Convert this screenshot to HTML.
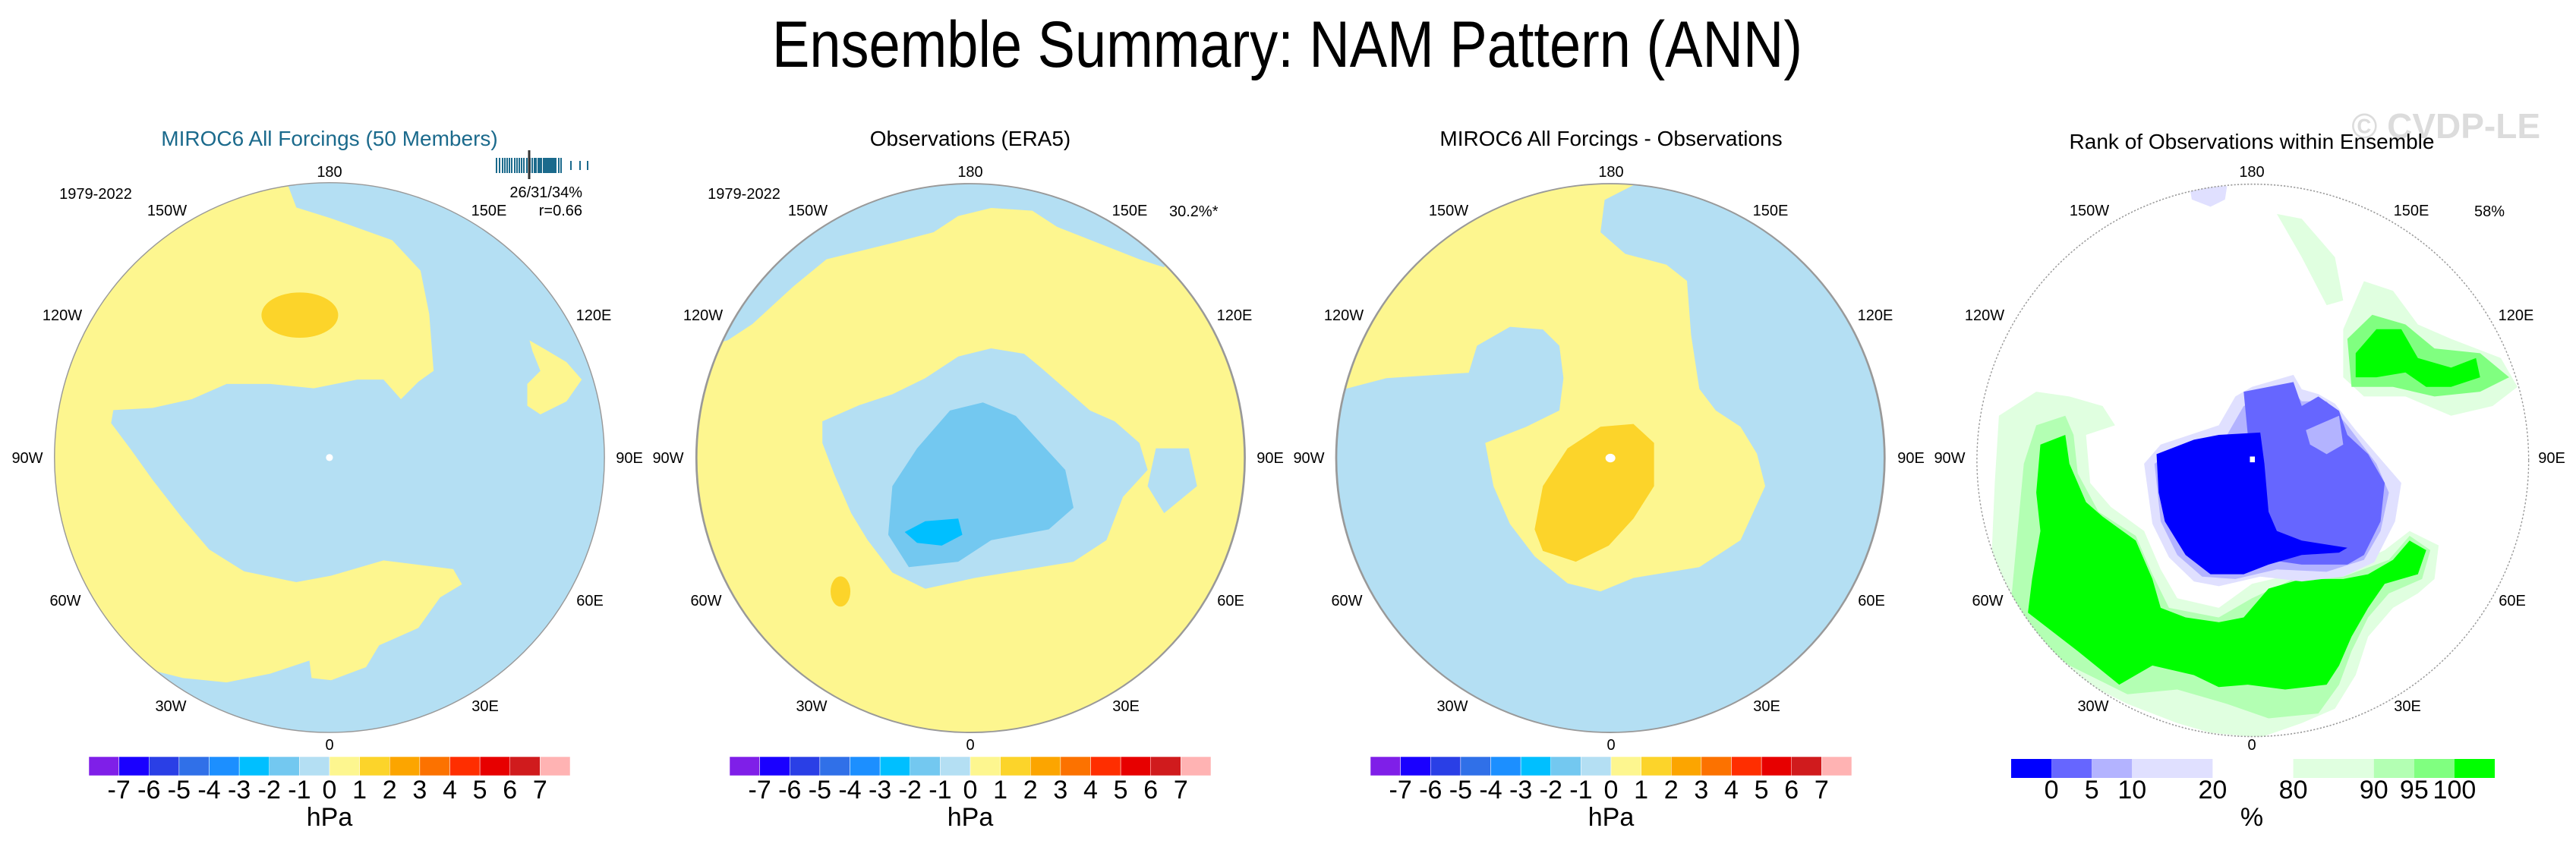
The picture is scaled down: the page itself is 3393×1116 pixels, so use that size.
<!DOCTYPE html>
<html><head><meta charset="utf-8"><style>
html,body{margin:0;padding:0;background:#fff;}
svg{display:block;font-family:"Liberation Sans",Arial,sans-serif;}
</style></head><body>
<svg id="fig" width="3393" height="1116" viewBox="0 0 3393 1116" xmlns="http://www.w3.org/2000/svg">
<defs>
  <clipPath id="c1"><circle cx="756" cy="789" r="631"/></clipPath>
  <clipPath id="c2"><ellipse cx="395" cy="848" rx="333" ry="508"/></clipPath>
  <clipPath id="c3"><ellipse cx="1172" cy="848" rx="333" ry="508"/></clipPath>
  <clipPath id="c4"><ellipse cx="782" cy="753" rx="665" ry="575"/></clipPath>
</defs>
<text x="1017" y="88" font-size="86" textLength="1357" lengthAdjust="spacingAndGlyphs" fill="#000">Ensemble Summary: NAM Pattern (ANN)</text>

<!-- Panel 1 -->
<g>
<text x="434" y="192" font-size="28" text-anchor="middle" fill="#1b6a8c">MIROC6 All Forcings (50 Members)</text>
<g transform="translate(0,150) scale(0.574)">
  <g clip-path="url(#c1)">
    <rect x="0" y="0" width="1600" height="1600" fill="#fdf68f"/>
    <path fill="#b4dff3" d="M660,162 L680,215 L760,240 L900,290 L965,360 L985,460 L995,590 L960,615 L920,655 L880,610 L820,610 L720,630 L620,620 L520,620 L440,655 L350,675 L260,680 L255,710 L300,770 L350,840 L420,930 L480,1000 L560,1050 L680,1075 L760,1060 L880,1025 L1040,1045 L1060,1080 L1010,1110 L960,1180 L870,1220 L840,1270 L760,1300 L715,1295 L710,1255 L620,1285 L520,1305 L420,1295 L360,1280 L300,1450 L1500,1500 L1500,100 L660,100 Z"/>
    <path fill="#fdf68f" d="M1215,520 L1250,540 L1300,570 L1335,610 L1300,660 L1240,690 L1210,670 L1210,620 L1240,590 L1222,545 Z"/>
    <ellipse cx="688" cy="462" rx="88" ry="52" fill="#fcd42a"/>
  </g>
  <circle cx="756" cy="789" r="631" fill="none" stroke="#999" stroke-width="2.5"/>
  <circle cx="756" cy="789" r="8" fill="#fff"/>
</g>
<text x="126" y="262" font-size="20" text-anchor="middle">1979-2022</text>
<text x="767" y="260" font-size="20" text-anchor="end">26/31/34%</text>
<text x="767" y="284" font-size="20" text-anchor="end">r=0.66</text>
<g id="barcode"></g>
</g>

<!-- Panel 2 -->
<g>
<text x="1278" y="192" font-size="28" text-anchor="middle" fill="#000">Observations (ERA5)</text>
<g transform="translate(850,0) scale(1.0846,0.7117)">
  <g clip-path="url(#c2)">
    <rect x="0" y="300" width="800" height="1100" fill="#fdf68f"/>
    <path fill="#b4dff3" d="M100,630 L130,600 L180,530 L220,480 L300,450 L350,430 L380,400 L420,385 L470,390 L500,420 L550,450 L600,480 L630,495 L700,300 L50,300 L50,650 Z"/>
    <path fill="#b4dff3" d="M215,780 L260,750 L300,730 L340,700 L380,660 L420,645 L460,655 L480,680 L510,720 L540,760 L570,780 L600,820 L610,870 L580,920 L560,1000 L520,1040 L460,1055 L400,1070 L340,1090 L300,1060 L270,1000 L250,950 L230,880 L215,820 Z"/>
    <path fill="#b4dff3" d="M620,830 L660,830 L670,900 L630,950 L610,900 Z"/>
    <path fill="#73c8f0" d="M300,900 L330,830 L370,760 L410,745 L450,770 L480,820 L510,870 L520,940 L490,980 L420,1000 L380,1040 L320,1050 L295,990 Z"/>
    <path fill="#00bfff" d="M315,985 L340,965 L380,960 L385,990 L360,1010 L330,1005 Z"/>
    <ellipse cx="237" cy="1095" rx="12" ry="28" fill="#fcd42a"/>
  </g>
  <ellipse cx="395" cy="848" rx="333" ry="508" fill="none" stroke="#999" stroke-width="2.5"/>
</g>
<text x="980" y="262" font-size="20" text-anchor="middle">1979-2022</text>
<text x="1540" y="285" font-size="20">30.2%*</text>
</g>

<!-- Panel 3 -->
<g>
<text x="2122" y="192" font-size="28" text-anchor="middle" fill="#000">MIROC6 All Forcings - Observations</text>
<g transform="translate(850,0) scale(1.0846,0.7117)">
  <g clip-path="url(#c3)">
    <rect x="800" y="300" width="800" height="1100" fill="#b4dff3"/>
    <path fill="#fdf68f" d="M850,720 L900,700 L1000,690 L1010,640 L1050,605 L1090,610 L1110,640 L1115,700 L1110,760 L1070,790 L1020,820 L1030,900 L1050,970 L1080,1030 L1120,1080 L1160,1095 L1200,1070 L1280,1050 L1330,1000 L1360,900 L1350,840 L1330,790 L1300,760 L1280,720 L1270,620 L1265,520 L1240,490 L1190,470 L1160,430 L1165,370 L1210,335 L1210,300 L800,300 L800,720 Z"/>
    <path fill="#fcd42a" d="M1090,900 L1120,830 L1160,790 L1200,785 L1225,820 L1225,900 L1200,960 L1170,1010 L1130,1040 L1090,1020 L1080,980 Z"/>
  </g>
  <ellipse cx="1172" cy="848" rx="333" ry="508" fill="none" stroke="#999" stroke-width="2.5"/>
  <ellipse cx="1172" cy="848" rx="6" ry="8" fill="#fff"/>
</g>
</g>

<!-- Panel 4 -->
<g>
<text x="3346" y="182" font-size="46" font-weight="bold" text-anchor="end" fill="#dcdcdc">© CVDP-LE</text>
<text x="2966" y="196" font-size="28" text-anchor="middle" fill="#000">Rank of Observations within Ensemble</text>
<g transform="translate(2540,130) scale(0.5464,0.6329)">
  <g clip-path="url(#c4)">
    <rect x="0" y="0" width="1600" height="1600" fill="#fff"/>
    <path fill="#e0ffe0" d="M840,240 L900,250 L980,330 L1000,420 L960,430 L900,330 Z"/>
    <path fill="#e0ffe0" d="M170,660 L260,610 L340,620 L420,640 L450,680 L380,700 L390,800 L440,850 L520,900 L560,980 L600,1040 L700,1060 L780,1010 L880,990 L1000,980 L1100,940 L1160,900 L1230,930 L1220,1000 L1180,1030 L1120,1060 L1060,1120 L1030,1200 L980,1270 L900,1300 L800,1330 L680,1320 L600,1300 L480,1260 L340,1200 L200,1120 L150,1000 L160,800 Z"/>
    <path fill="#b3ffb3" d="M200,1040 L230,760 L260,680 L330,660 L350,700 L360,780 L410,860 L500,910 L540,990 L580,1060 L700,1080 L780,1040 L880,1000 L1000,995 L1110,960 L1160,910 L1210,940 L1190,1000 L1110,1030 L1060,1080 L1020,1150 L990,1220 L940,1280 L820,1290 L720,1260 L600,1230 L480,1240 L340,1180 L220,1100 Z"/>
    <path fill="#00ff00" d="M270,720 L330,700 L340,760 L380,840 L420,870 L500,920 L540,1000 L560,1060 L620,1080 L700,1090 L760,1080 L820,1020 L900,1000 L1000,1000 L1060,990 L1120,960 L1160,920 L1200,940 L1180,990 L1100,1010 L1060,1060 L1020,1120 L990,1180 L960,1220 L860,1230 L770,1220 L700,1225 L640,1200 L540,1180 L460,1220 L360,1150 L240,1070 L250,1000 L270,900 L260,820 Z"/>
    <path fill="#e0ffe0" d="M1000,480 L1050,380 L1120,400 L1180,470 L1260,500 L1380,540 L1420,600 L1360,640 L1260,660 L1150,620 L1050,620 L1000,580 Z"/>
    <path fill="#80ff80" d="M1010,500 L1070,450 L1150,470 L1220,520 L1330,530 L1400,580 L1330,610 L1220,620 L1120,600 L1020,600 Z"/>
    <path fill="#00ff00" d="M1030,530 L1080,480 L1140,480 L1180,540 L1260,560 L1320,540 L1330,580 L1260,600 L1200,600 L1150,570 L1080,580 L1030,580 Z"/>
    <path fill="#e0e0ff" d="M520,760 L560,720 L700,680 L740,620 L780,600 L880,575 L900,605 L940,615 L980,635 L1030,690 L1100,760 L1140,800 L1125,880 L1075,965 L1000,995 L900,1005 L800,995 L700,1015 L640,1005 L580,955 L540,885 Z"/>
    <path fill="#b3b3ff" d="M545,760 L600,730 L720,700 L760,640 L870,600 L900,630 L960,630 L1010,680 L1080,760 L1110,820 L1090,900 L1050,960 L960,985 L840,980 L740,1000 L660,995 L600,950 L560,880 Z"/>
    <path fill="#6666ff" d="M760,610 L880,590 L900,640 L940,620 L990,650 L1010,700 L1060,740 L1100,800 L1090,880 L1050,950 L1010,970 L900,970 L820,960 L790,900 L770,700 Z"/>
    <path fill="#b3b3ff" d="M910,690 L990,660 L1000,720 L960,740 L920,720 Z"/>
    <path fill="#0000ff" d="M550,740 L640,710 L700,700 L800,695 L810,760 L820,860 L840,900 L900,920 L1010,935 L990,945 L900,950 L820,970 L760,990 L680,990 L620,950 L570,880 L555,820 Z"/>
    <path fill="#e0e0ff" d="M630,185 L720,182 L715,210 L680,225 L635,210 Z"/>
  </g>
  <ellipse cx="782" cy="753" rx="665" ry="575" fill="none" stroke="#999" stroke-width="2.5" stroke-dasharray="4 4"/>
  <rect x="775" y="745" width="12" height="12" fill="#fff"/>
</g>
<text x="3279" y="285" font-size="20" text-anchor="middle">58%</text>
</g>

<g id="lonlabels"></g>
<g id="colorbars"></g>
</svg>
<script>
const NS = "http://www.w3.org/2000/svg";
const svg = document.getElementById('fig');
// colorbar data
const hpaColors = ["#7f1fe8","#1a00ff","#2a3fe6","#3070e8","#1c8fff","#00bfff","#73c8f0","#b4dff3","#fdf68f","#fcd42a","#fca500","#fc7200","#ff2e00","#e70000","#d01b1d","#ffb3b3"];
const hpaTicks = ["-7","-6","-5","-4","-3","-2","-1","0","1","2","3","4","5","6","7"];
const rankColors = ["#0000ff","#6666ff","#b3b3ff","#e0e0ff","#ffffff","#e0ffe0","#b3ffb3","#80ff80","#00ff00"];
const rankBounds = [0,1,2,3,5,7,9,10,11,12];
const rankTicks = ["0","5","10","20","80","90","95","100"];
const panelCenters = [434, 1278, 2122, 2966];
const barcodeVals = [0,4,8,11,14,17,20,24,27,30,33,36,40,43,44,47,50,52,55,57,59,62,64,66,68,70,72,74,76,78,82,85,98,110,120];
const lonLabels = ["180","0","90W","90E","120W","120E","150W","150E","60W","60E","30W","30E"];
const lonDx = [0,0,-398,395,-352,348,-214,210,-348,343,-209,205];
const lonDy = [-377,378,0,0,-188,-188,-326,-326,188,188,327,327];

function mk(tag, attrs, parent){const e=document.createElementNS(NS,tag);for(const k in attrs)e.setAttribute(k,attrs[k]);parent.appendChild(e);return e;}

const cbg = document.getElementById('colorbars');
const cbY = 997, cbH = 25, cbW = 634;
for(let p=0;p<3;p++){
  const x0 = panelCenters[p]-cbW/2, seg = cbW/hpaColors.length;
  hpaColors.forEach((c,i)=>{
    const r = mk('rect',{x:x0+i*seg,y:cbY,width:seg,height:cbH,fill:c,stroke:'#fff','stroke-width':0.5},cbg);
    
    
  });
  hpaTicks.forEach((t,i)=>{
    const tx = mk('text',{x:x0+(i+1)*seg,y:1052,'font-size':34,'text-anchor':'middle'},cbg);
    tx.textContent=t;
    
    
  });
  const u = mk('text',{x:panelCenters[p],y:1088,'font-size':34,'text-anchor':'middle'},cbg);
  u.textContent='hPa';
  
  
}
{
  const x0 = 2649, x1 = 3286, unit=(x1-x0)/rankBounds[rankBounds.length-1];
  rankColors.forEach((c,i)=>{
    const r = mk('rect',{x:x0+rankBounds[i]*unit,y:cbY+3,width:(rankBounds[i+1]-rankBounds[i])*unit,height:cbH,fill:c},cbg);
    
    
  });
  rankTicks.forEach((t,i)=>{
    const tx = mk('text',{x:x0+rankBounds[i+1]*unit,y:1052,'font-size':34,'text-anchor':'middle'},cbg);
    tx.textContent=t;
    
    
  });
  const u = mk('text',{x:2966,y:1088,'font-size':34,'text-anchor':'middle'},cbg);
  u.textContent='%';
  
  
}
const lg = document.getElementById('lonlabels');
panelCenters.forEach(cx=>{
  lonLabels.forEach((l,i)=>{
    const t = mk('text',{x:cx+lonDx[i],y:603+lonDy[i]+7,'font-size':20,'text-anchor':'middle'},lg);
    t.textContent=l;
    
    
  });
});
const bc = document.getElementById('barcode');
barcodeVals.forEach(v=>{
  const x = 654 + v;
  const tall = v>55;
  const l = mk('line',{x1:x,x2:x,y1:tall&&v>90?212:208,y2:tall&&v>90?224:228,stroke:'#1b6a8c','stroke-width':2},bc);
  
  
});
const ob = mk('line',{x1:697,x2:697,y1:198,y2:236,stroke:'#333','stroke-width':3},bc);


</script>
</body></html>
